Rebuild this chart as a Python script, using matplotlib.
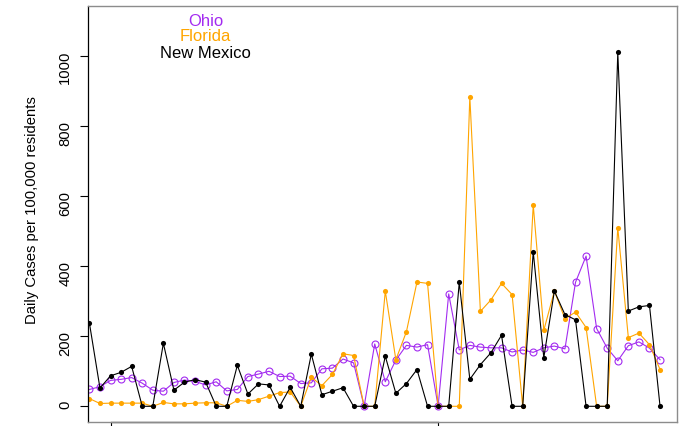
import matplotlib

matplotlib.use("Agg")
import matplotlib.pyplot as plt

# daily new cases per 100k, one value per day
day = list(range(55))
ohio = [48, 56, 74, 77, 82, 66, 46, 43, 68, 75,
        71, 61, 70, 44, 48, 85, 92, 100, 85, 86,
        65, 67, 107, 109, 135, 124, 0, 178, 70, 132,
        174, 169, 176, 0, 321, 161, 174, 169, 167, 167,
        155, 161, 154, 167, 172, 164, 354, 429, 222, 166,
        130, 173, 184, 166, 133]
florida = [22, 8, 9, 9, 9, 9, 0, 11, 7, 7,
           9, 10, 10, 0, 17, 14, 19, 29, 39, 41,
           0, 83, 59, 91, 150, 145, 0, 0, 329, 133,
           213, 355, 351, 0, 0, 0, 884, 271, 304, 351,
           319, 0, 575, 217, 329, 250, 269, 225, 0, 0,
           510, 196, 209, 176, 105]
new_mexico = [238, 52, 87, 97, 114, 0, 0, 180, 46, 69,
              76, 69, 0, 0, 117, 35, 64, 61, 0, 54,
              0, 149, 33, 43, 53, 0, 0, 0, 143, 37,
              65, 105, 0, 0, 0, 354, 77, 119, 153, 203,
              0, 0, 441, 139, 329, 262, 247, 0, 0, 0,
              1011, 272, 284, 288, 0]

states = ["Ohio", "Florida", "New Mexico"]
x_ticks = [2, 33]
y_ticks = [0, 200, 400, 600, 800, 1000]

PURPLE = "#A32BF0"
ORANGE = "#FFA500"

plt.rcParams["font.family"] = ["Liberation Sans", "DejaVu Sans"]

fig = plt.figure(figsize=(6.8, 4.26), dpi=100)
ax = fig.add_axes([0.1299, 0.0101, 0.8664, 0.9765])

ax.plot(day, ohio, color=PURPLE, lw=0.8, marker="o", ms=5.0,
        mfc="none", mec=PURPLE, mew=0.8)
ax.plot(day, florida, color=ORANGE, lw=0.8, marker="o", ms=3.7, mew=0)
ax.plot(day, new_mexico, color="black", lw=0.8, marker="o", ms=3.7, mew=0)

ax.set_xlim(-0.1, 55.65)
ax.set_ylim(-44, 1144)

ax.set_yticks(y_ticks)
ax.tick_params(axis="y", direction="out", length=5.5, width=0.8,
               labelsize=10.7, pad=6, labelrotation=90)
ax.set_xticks(x_ticks, labels=["", ""])
ax.tick_params(axis="x", direction="out", length=6, width=0.8)

for side in ["top", "right", "bottom"]:
    ax.spines[side].set_color("#8c8c8c")
    ax.spines[side].set_linewidth(1.0)
ax.spines["left"].set_color("black")
ax.spines["left"].set_linewidth(0.9)

# axis segment between the outer x ticks
ax.plot(x_ticks, [0, 0], transform=ax.get_xaxis_transform(),
        color="#444444", lw=1.0, clip_on=False)

fig.text(32 / 680, 1 - 210 / 426, "Daily Cases per 100,000 residents",
         rotation=90, ha="center", va="center", fontsize=10.7)

# legend as stacked coloured labels
for name, col, yy in zip(states, [PURPLE, ORANGE, "black"],
                         [0.961, 0.925, 0.886]):
    ax.text(0.199, yy, name, color=col, fontsize=12,
            ha="center", va="center", transform=ax.transAxes)

fig.savefig("out.png", dpi=100)
